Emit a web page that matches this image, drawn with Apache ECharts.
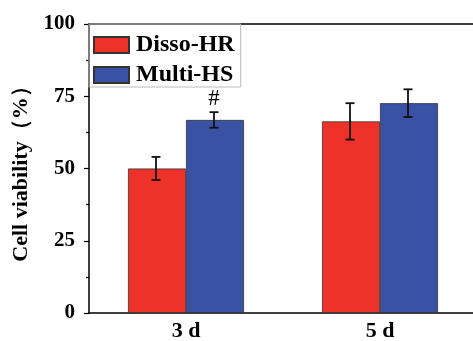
<!DOCTYPE html>
<html>
<head>
<meta charset="utf-8">
<script src="https://cdn.jsdelivr.net/npm/echarts@6/dist/echarts.min.js"></script>
<style>html,body{margin:0;padding:0;background:#fff;overflow:hidden;}#c{width:473px;height:341px;}</style>
</head>
<body>
<div id="c"></div>
<script>
var categories = ['3 d', '5 d'];
var seriesNames = ['Disso-HR', 'Multi-HS'];
var dissoMean = [50.0, 66.3];
var dissoErr = [4.0, 6.3];
var multiMean = [66.8, 72.6];
var multiErr = [2.7, 4.8];
var multiMarks = ['#', ''];
var yTicks = { min: 0, max: 100, interval: 25 };

var FONT = '"Liberation Serif","Times New Roman",serif';
var BAR_W = 58;

var errData = [];
for (var i = 0; i < categories.length; i++) {
  errData.push([i, dissoMean[i], dissoErr[i], 0, '']);
  errData.push([i, multiMean[i], multiErr[i], 1, multiMarks[i]]);
}

var chart = echarts.init(document.getElementById('c'), null, { renderer: 'canvas' });
chart.setOption({
  animation: false,
  backgroundColor: '#fff',
  grid: { left: 89, width: 388, top: 24, bottom: 28, outerBoundsMode: 'none', containLabel: false },
  legend: {
    orient: 'vertical', left: 89, top: 24,
    data: seriesNames,
    icon: 'rect',
    itemWidth: 35, itemHeight: 16, itemGap: 6,
    padding: [9, 6, 0, 4],
    borderColor: '#bbb', borderWidth: 1,
    textStyle: { fontFamily: FONT, fontWeight: 'bold', fontSize: 24, color: '#000', padding: [0, 0, 0, 2] }
  },
  xAxis: [{
    type: 'category', data: categories,
    axisLine: { lineStyle: { color: '#000', width: 1.5 } },
    axisTick: { show: false },
    axisLabel: { fontFamily: FONT, fontWeight: 'bold', fontSize: 22, color: '#000', margin: 7 }
  }, {
    type: 'category', data: categories, position: 'top',
    axisLine: { show: true, lineStyle: { color: '#000', width: 1.5 } },
    axisTick: { show: false }, axisLabel: { show: false }
  }],
  yAxis: {
    type: 'value', min: yTicks.min, max: yTicks.max, interval: yTicks.interval,
    name: 'Cell viability（%）', nameLocation: 'middle', nameGap: 52,
    nameTextStyle: { fontFamily: FONT, fontWeight: 'bold', fontSize: 22, color: '#000' },
    axisLine: { show: true, lineStyle: { color: '#000', width: 1.5 } },
    axisTick: { show: true, length: 5, lineStyle: { color: '#000', width: 1.2 } },
    minorTick: { show: true, splitNumber: 2, length: 3, lineStyle: { color: '#000', width: 1.2 } },
    splitLine: { show: false },
    axisLabel: { fontFamily: FONT, fontWeight: 'bold', fontSize: 21, color: '#000', margin: 14 }
  },
  series: [
    { name: seriesNames[0], type: 'bar', data: dissoMean, barWidth: BAR_W, barGap: '0%',
      itemStyle: { color: '#EE3129', borderColor: '#333', borderWidth: 0.8 } },
    { name: seriesNames[1], type: 'bar', data: multiMean, barWidth: BAR_W, barGap: '0%',
      itemStyle: { color: '#3A52A3', borderColor: '#333', borderWidth: 0.8 } },
    { type: 'custom', data: errData, z: 10,
      renderItem: function (params, api) {
        var cat = api.value(0), m = api.value(1), e = api.value(2), s = api.value(3);
        var mark = errData[params.dataIndex][4];
        var c = api.coord([cat, m]);
        var x = c[0] + (s === 0 ? -BAR_W / 2 : BAR_W / 2) - 1;
        var top = api.coord([cat, m + e])[1];
        var bot = api.coord([cat, m - e])[1];
        var cap = 4.5;
        var st = { stroke: '#111', lineWidth: 1.8 };
        var children = [
          { type: 'line', shape: { x1: x, y1: top, x2: x, y2: bot }, style: st },
          { type: 'line', shape: { x1: x - cap, y1: top, x2: x + cap, y2: top }, style: st },
          { type: 'line', shape: { x1: x - cap, y1: bot, x2: x + cap, y2: bot }, style: st }
        ];
        if (mark) {
          children.push({ type: 'text', style: { text: mark, x: x, y: top - 2, textAlign: 'center', textVerticalAlign: 'bottom',
            font: 'normal 23px ' + FONT, fill: '#000' } });
        }
        return { type: 'group', children: children };
      }
    }
  ]
});
</script>
</body>
</html>
